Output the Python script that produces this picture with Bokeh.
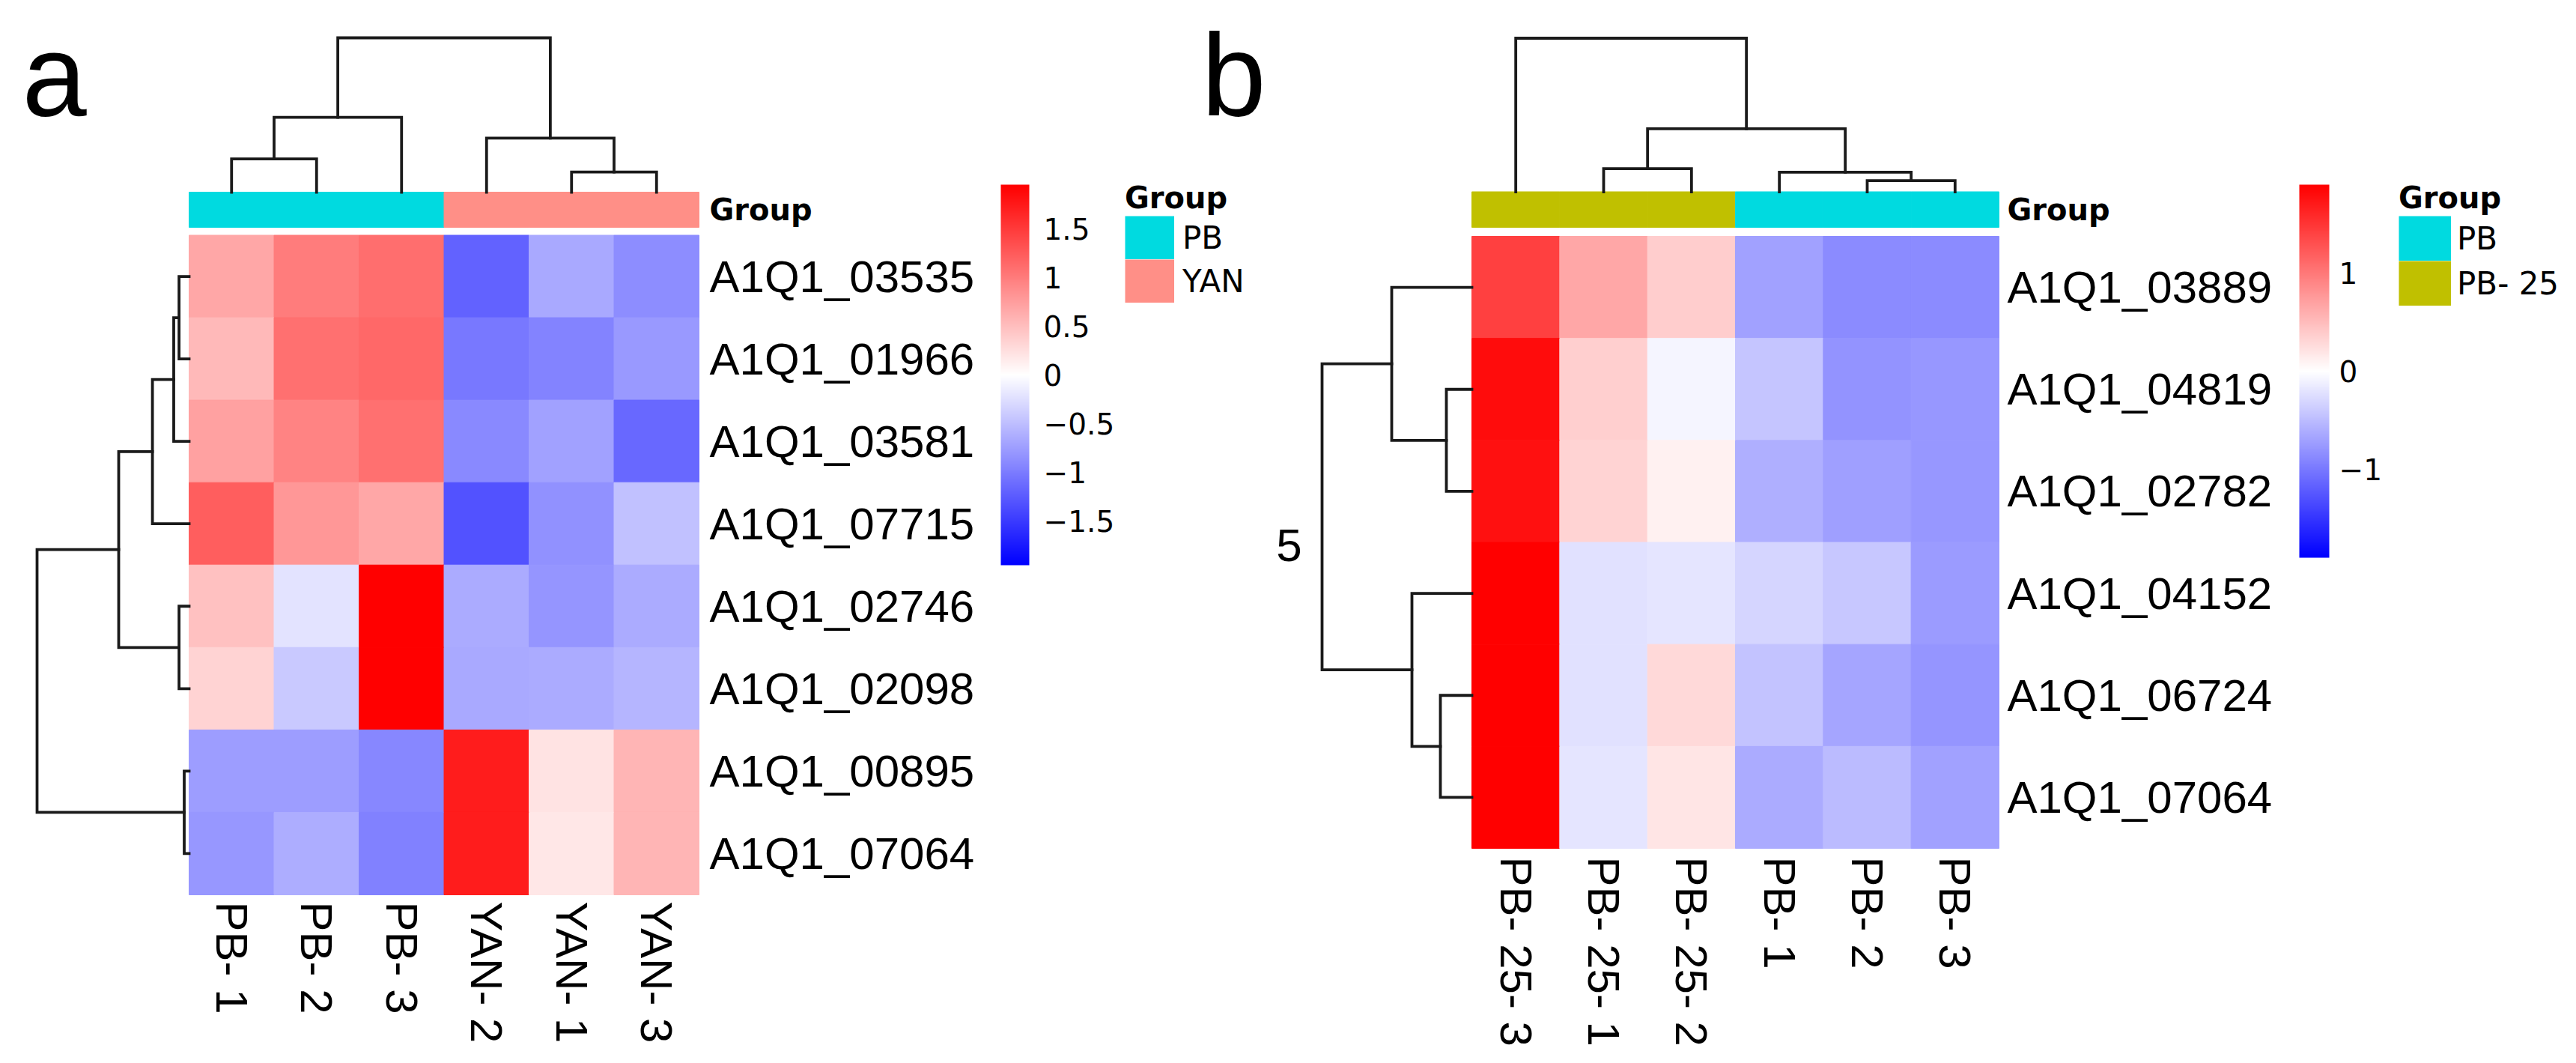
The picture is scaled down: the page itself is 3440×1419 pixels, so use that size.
import math
from bokeh.plotting import figure
from bokeh.models import (Range1d, ColumnDataSource, LinearColorMapper, CategoricalColorMapper,
                          ColorBar, FixedTicker, Legend, LegendItem)
from bokeh.core.properties import value
from bokeh.embed import file_html
from bokeh.resources import INLINE

# ---------------- panel a data ----------------
a_samples = ["PB- 1", "PB- 2", "PB- 3", "YAN- 2", "YAN- 1", "YAN- 3"]
a_groups = ["PB", "PB", "PB", "YAN", "YAN", "YAN"]
a_genes = ["A1Q1_03535", "A1Q1_01966", "A1Q1_03581", "A1Q1_07715",
           "A1Q1_02746", "A1Q1_02098", "A1Q1_00895", "A1Q1_07064"]
a_values = [
    [0.68, 1.00, 1.10, -1.20, -0.66, -0.87],
    [0.53, 1.08, 1.14, -1.02, -0.95, -0.78],
    [0.72, 0.95, 1.08, -0.90, -0.72, -1.14],
    [1.23, 0.80, 0.68, -1.32, -0.84, -0.48],
    [0.48, -0.22, 1.95, -0.64, -0.81, -0.65],
    [0.34, -0.42, 1.95, -0.66, -0.64, -0.56],
    [-0.75, -0.75, -0.92, 1.73, 0.22, 0.56],
    [-0.80, -0.62, -0.97, 1.73, 0.18, 0.56],
]
a_limit = 1.95
a_ticks = [-1.5, -1.0, -0.5, 0.0, 0.5, 1.0, 1.5]
a_tick_labels = ["\u22121.5", "\u22121", "\u22120.5", "0", "0.5", "1", "1.5"]
a_legend = ["PB", "YAN"]
# dendrogram merges: (child, child, relative height); leaves 0..n-1, new nodes numbered from n
a_col_tree = [(0, 1, 0.215), (4, 5, 0.13), (6, 2, 0.485), (3, 7, 0.35), (8, 9, 1.0)]
a_row_tree = [(0, 1, 0.066), (8, 2, 0.101), (9, 3, 0.241), (4, 5, 0.066),
              (10, 11, 0.463), (6, 7, 0.032), (12, 13, 1.0)]

# ---------------- panel b data ----------------
b_samples = ["PB- 25- 3", "PB- 25- 1", "PB- 25- 2", "PB- 1", "PB- 2", "PB- 3"]
b_groups = ["PB- 25", "PB- 25", "PB- 25", "PB", "PB", "PB"]
b_genes = ["A1Q1_03889", "A1Q1_04819", "A1Q1_02782",
           "A1Q1_04152", "A1Q1_06724", "A1Q1_07064"]
b_values = [
    [1.42, 0.66, 0.37, -0.70, -0.86, -0.86],
    [1.80, 0.36, -0.07, -0.43, -0.81, -0.77],
    [1.77, 0.33, 0.10, -0.59, -0.71, -0.78],
    [1.90, -0.23, -0.20, -0.32, -0.42, -0.75],
    [1.90, -0.23, 0.29, -0.45, -0.67, -0.79],
    [1.90, -0.19, 0.19, -0.63, -0.51, -0.70],
]
b_limit = 1.9
b_ticks = [-1.0, 0.0, 1.0]
b_tick_labels = ["\u22121", "0", "1"]
b_legend = ["PB", "PB- 25"]
b_col_tree = [(4, 5, 0.073), (3, 6, 0.127), (1, 2, 0.151), (8, 7, 0.41), (0, 9, 1.0)]
b_row_tree = [(1, 2, 0.17), (0, 6, 0.535), (4, 5, 0.21), (3, 8, 0.40), (7, 9, 1.0)]
b_side_label = "5"

group_colors = {"PB": "#00DAE0", "YAN": "#FF8F87", "PB- 25": "#C0C000"}

# ---------------- styling / layout ----------------
W, H = 3430, 1412
LAB_FONT = "Liberation Sans"
LEG_FONT = "DejaVu Sans"
TREE_COLOR = "#1a1a1a"


def bwr_palette(n=255):
    cols = []
    for k in range(n):
        t = k / (n - 1)
        if t < 0.5:
            c = int(round(510 * t))
            cols.append("#%02x%02xff" % (c, c))
        else:
            c = int(round(510 * (1 - t)))
            cols.append("#ff%02x%02x" % (c, c))
    return cols


PALETTE = bwr_palette()

p = figure(width=W, height=H, x_range=Range1d(0, W), y_range=Range1d(H, 0),
           output_backend="svg", toolbar_location=None, min_border=0,
           x_axis_location=None, y_axis_location=None, outline_line_color=None)
p.xgrid.visible = False
p.ygrid.visible = False
p.background_fill_color = "white"
p.border_fill_color = "white"

gmap = CategoricalColorMapper(factors=list(group_colors.keys()),
                              palette=list(group_colors.values()))


def add_text(xs, ys, texts, font, size, style="normal", align="left",
             baseline="middle", angle=0.0):
    src = ColumnDataSource(dict(x=xs, y=ys, t=texts))
    p.text("x", "y", text="t", source=src, text_font=value(font),
           text_font_size=value(size), text_font_style=style, text_align=align,
           text_baseline=baseline, angle=angle, text_color="black")


def tree_paths(merges, leaf_pos, base, extent, vertical_leaves):
    pos = list(leaf_pos)
    hgt = [0.0] * len(leaf_pos)
    xs, ys = [], []
    for a, b, h in merges:
        along = [pos[a], pos[a], pos[b], pos[b]]
        depth = [base - hh * extent for hh in (hgt[a], h, h, hgt[b])]
        if vertical_leaves:
            xs.append(along)
            ys.append(depth)
        else:
            xs.append(depth)
            ys.append(along)
        pos.append((pos[a] + pos[b]) / 2.0)
        hgt.append(h)
    return xs, ys


def draw_panel(samples, groups, genes, values, limit, ticks, tick_labels,
               col_tree, row_tree, legend_groups, g):
    n_r, n_c = len(genes), len(samples)
    x0, y0, cw, ch = g["heat_left"], g["heat_top"], g["cell_w"], g["cell_h"]
    mapper = LinearColorMapper(palette=PALETTE, low=-limit, high=limit)

    # heatmap cells
    L, R, T, B, V = [], [], [], [], []
    for r in range(n_r):
        for c in range(n_c):
            L.append(x0 + c * cw)
            R.append(x0 + (c + 1) * cw)
            T.append(y0 + r * ch)
            B.append(y0 + (r + 1) * ch)
            V.append(values[r][c])
    src = ColumnDataSource(dict(left=L, right=R, top=T, bottom=B, v=V))
    p.quad(left="left", right="right", top="top", bottom="bottom", source=src,
           fill_color={"field": "v", "transform": mapper},
           line_color={"field": "v", "transform": mapper}, line_width=1)

    # annotation bar
    bl = [x0 + c * cw for c in range(n_c)]
    bsrc = ColumnDataSource(dict(left=bl, right=[x + cw for x in bl],
                                 top=[g["bar_top"]] * n_c, bottom=[g["bar_bottom"]] * n_c,
                                 grp=groups))
    p.quad(left="left", right="right", top="top", bottom="bottom", source=bsrc,
           fill_color={"field": "grp", "transform": gmap},
           line_color={"field": "grp", "transform": gmap}, line_width=1)

    # dendrograms
    col_centers = [x0 + (c + 0.5) * cw for c in range(n_c)]
    row_centers = [y0 + (r + 0.5) * ch for r in range(n_r)]
    cx, cy = tree_paths(col_tree, col_centers, g["bar_top"], g["col_tree"], True)
    rx, ry = tree_paths(row_tree, row_centers, x0, g["row_tree"], False)
    p.multi_line(xs=cx + rx, ys=cy + ry, line_color=TREE_COLOR, line_width=3.8,
                 line_join="miter", line_cap="square")

    # labels
    right = x0 + n_c * cw
    add_text([right + g["row_lab_dx"]] * n_r, row_centers, genes, LAB_FONT, "60px")
    add_text(col_centers, [y0 + n_r * ch + g["col_lab_dy"]] * n_c, samples, LAB_FONT,
             "60px", angle=-math.pi / 2)
    add_text([right + g["row_lab_dx"]], [(g["bar_top"] + g["bar_bottom"]) / 2.0], ["Group"],
             LEG_FONT, "40px", style="bold")

    # colour bar
    cbx, cby, cbw, cbh = g["cbar"]
    cb = ColorBar(color_mapper=mapper, location=(cbx, H - (cby + cbh)),
                  width=cbw, height=cbh, ticker=FixedTicker(ticks=ticks),
                  major_label_overrides=dict(zip(ticks, tick_labels)),
                  major_tick_line_color=None, minor_tick_line_color=None,
                  bar_line_color=None, border_line_color=None,
                  background_fill_alpha=0, padding=0, margin=0,
                  label_standoff=g["cbar_standoff"],
                  major_label_text_font=LEG_FONT, major_label_text_font_size="39px",
                  major_label_text_color="black")
    p.add_layout(cb)

    # legend: one colour swatch per group (a single NaN point, so nothing is plotted)
    bw, bh = g["legend_box"]
    items = []
    for lg in legend_groups:
        sw = p.line(x=[float("nan")], y=[float("nan")], line_color=group_colors[lg],
                    line_width=bh, line_cap="butt")
        items.append(LegendItem(label=lg, renderers=[sw]))
    bottom = g["legend_top"] + len(items) * bh
    leg = Legend(items=items, location=(g["legend_left"], H - bottom),
                 title="Group", title_text_font=LEG_FONT, title_text_font_size="40px",
                 title_text_font_style="bold", title_text_color="black",
                 title_standoff=g["legend_title_standoff"],
                 label_text_font=LEG_FONT, label_text_font_size="42px",
                 label_text_color="black",
                 label_standoff=g["legend_label_standoff"], glyph_width=bw, glyph_height=bh,
                 label_height=bh, spacing=0, padding=0, margin=0, border_line_alpha=0,
                 background_fill_alpha=0)
    p.add_layout(leg)


GEO_A = dict(heat_left=252, heat_top=313.5, cell_w=113.5, cell_h=110.06,
             bar_top=256, bar_bottom=303, col_tree=206, row_tree=203,
             row_lab_dx=14, col_lab_dy=9,
             cbar=(1336, 246, 38, 508), cbar_standoff=19,
             legend_left=1502, legend_top=288, legend_box=(66, 58),
             legend_title_standoff=1, legend_label_standoff=11)
GEO_B = dict(heat_left=1965, heat_top=315, cell_w=117.33, cell_h=136.17,
             bar_top=255.5, bar_bottom=303, col_tree=205, row_tree=200,
             row_lab_dx=11, col_lab_dy=11,
             cbar=(3070, 246, 40, 498), cbar_standoff=13,
             legend_left=3203, legend_top=288, legend_box=(70, 60),
             legend_title_standoff=1, legend_label_standoff=8)

draw_panel(a_samples, a_groups, a_genes, a_values, a_limit, a_ticks, a_tick_labels,
           a_col_tree, a_row_tree, a_legend, GEO_A)
draw_panel(b_samples, b_groups, b_genes, b_values, b_limit, b_ticks, b_tick_labels,
           b_col_tree, b_row_tree, b_legend, GEO_B)

# panel tags (baseline at y=154) and the stray "5"
TAG_SIZE = 155
add_text([29, 1604], [154 - 0.3465 * TAG_SIZE] * 2, ["a", "b"], LAB_FONT, "%dpx" % TAG_SIZE)
add_text([1721], [727], [b_side_label], LAB_FONT, "62px", align="center")

open("out.html", "w").write(file_html(p, INLINE))
